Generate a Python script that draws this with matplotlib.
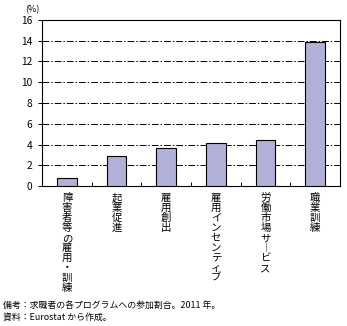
import matplotlib
matplotlib.use("Agg")
import matplotlib.pyplot as plt

plt.rcParams['font.family'] = ['Noto Sans CJK JP', 'DejaVu Sans']

categories = ["障害者等の雇用・訓練", "起業促進", "雇用創出", "雇用インセンティブ", "労働市場サービス", "職業訓練"]
values = [0.8, 2.9, 3.7, 4.1, 4.4, 13.9]
yticks = [0, 2, 4, 6, 8, 10, 12, 14, 16]

def vertical(s):
    # stack characters top to bottom, long vowel mark turned upright
    return "\n".join("︱" if c == "ー" else c for c in s)

fig = plt.figure(figsize=(3.47, 3.26), dpi=100)
ax = fig.add_axes([0.121, 0.4294, 0.859, 0.5093])

x = list(range(len(categories)))
ax.bar(x, values, width=0.4, color='#b0b0d8', edgecolor='black', linewidth=0.8, zorder=3)

for v in yticks[1:-1]:
    ax.axhline(v, color='black', linewidth=0.7, linestyle=(0, (7, 2, 1.5, 2)), zorder=1)

ax.set_xlim(-0.5, len(categories) - 0.5)
ax.set_ylim(0, 16)
ax.set_yticks(yticks)
ax.tick_params(axis='y', labelsize=7.3, length=3, width=0.7, pad=4)

# small ticks between categories, pointing up
ax.set_xticks([i + 0.5 for i in range(len(categories) - 1)])
ax.set_xticklabels([])
ax.tick_params(axis='x', direction='in', length=3, width=0.7)

for s in ax.spines.values():
    s.set_linewidth(0.8)

for i, c in enumerate(categories):
    ax.annotate(vertical(c), xy=(i, 0), xycoords='data', xytext=(0, -5),
                textcoords='offset points', ha='center', va='top',
                fontsize=7.5, linespacing=1.0)

fig.text(0.072, 0.985, "(%)", fontsize=6.5, ha='left', va='top')
fig.text(0.01, 0.064, "備考：求職者の各プログラムへの参加割合。2011 年。", fontsize=6.4, ha='left', va='center')
fig.text(0.01, 0.028, "資料：Eurostat から作成。", fontsize=6.4, ha='left', va='center')

fig.savefig("out.png", dpi=100)
